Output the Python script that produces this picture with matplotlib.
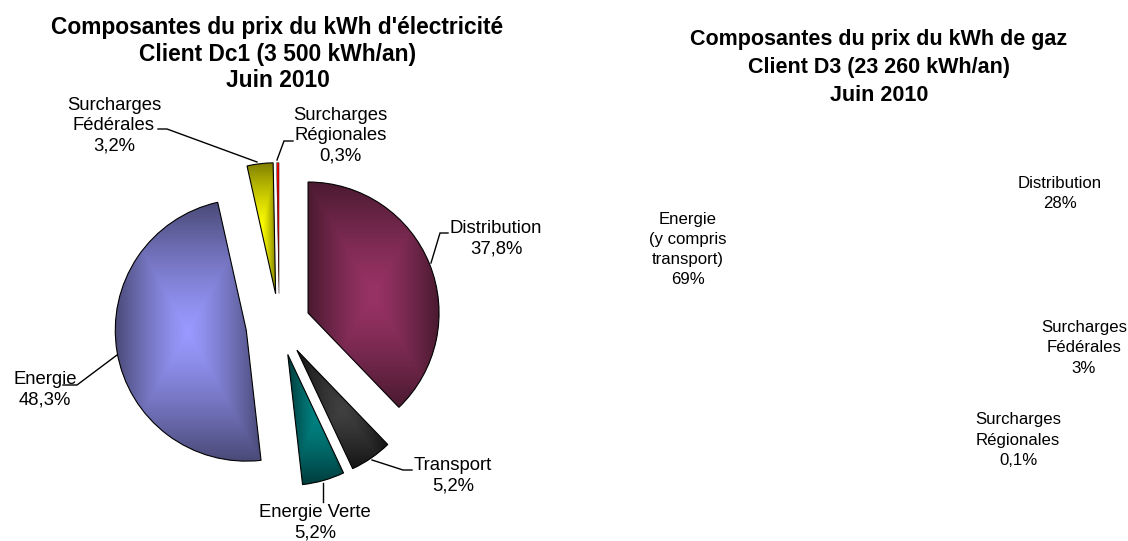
import numpy as np
import matplotlib
matplotlib.use('Agg')
import matplotlib.pyplot as plt

plt.rcParams['font.family'] = ['Liberation Sans', 'DejaVu Sans']

# electricity pie (clockwise from 12 o'clock)
elec_names = ['Distribution', 'Transport', 'Energie Verte', 'Energie', 'Surcharges\nFédérales', 'Surcharges\nRégionales']
elec_values = [37.8, 5.2, 5.2, 48.3, 3.2, 0.3]
elec_bright = ['#993366', '#404040', '#008080', '#9999FF', '#FFFF00', '#FF0000']
elec_dark = ['#4A1A30', '#141414', '#003C3C', '#4A4A78', '#808000', '#FF0000']

# gas labels, the pie itself is not visible in the picture
gas_names = ['Distribution', 'Surcharges\nFédérales', 'Surcharges\nRégionales', 'Energie\n(y compris\ntransport)']
gas_values = ['28%', '3%', '0,1%', '69%']

title_left = "Composantes du prix du kWh d'électricité\nClient Dc1 (3 500 kWh/an)\nJuin 2010"
title_right = "Composantes du prix du kWh de gaz\nClient D3 (23 260 kWh/an)\nJuin 2010"

W, H = 1128, 541


def fmt(v):
    return f'{v:.1f}'.replace('.', ',') + '%'


fig = plt.figure(figsize=(W / 100, H / 100), dpi=100)
ax = fig.add_axes([0, 0, 1, 1])

# axes in pixels, y flipped back by hand through H - y
wedges, _ = ax.pie(elec_values, startangle=90, counterclock=False, radius=131,
                   center=(279.3, H - 324.6), explode=[31, 31, 31, 33.5, 31, 31],
                   wedgeprops={'facecolor': 'none', 'edgecolor': 'black', 'linewidth': 0.8, 'zorder': 3})
# the thin red slice disappears under a full outline
wedges[-1].set_linewidth(0.35)

# rectangular "from centre" gradient inside each slice
for w, c1, c2 in zip(wedges, elec_bright, elec_dark):
    ext = w.get_path().transformed(w.get_patch_transform()).get_extents()
    u, v = np.meshgrid(np.linspace(-1, 1, 200), np.linspace(-1, 1, 200))
    t = np.maximum(np.abs(u), np.abs(v)) ** 1.3
    rgb1 = np.array(matplotlib.colors.to_rgb(c1))
    rgb2 = np.array(matplotlib.colors.to_rgb(c2))
    img = rgb1[None, None, :] * (1 - t[..., None]) + rgb2[None, None, :] * t[..., None]
    im = ax.imshow(img, extent=[ext.x0, ext.x1, ext.y0, ext.y1], aspect='auto', zorder=2, interpolation='bilinear')
    im.set_clip_path(w)

ax.set_xlim(0, W)
ax.set_ylim(0, H)
ax.set_aspect('auto')
ax.axis('off')


def label(x, y, s, size=13.3, ls=1.24, **kw):
    ax.text(x, H - y, s, fontsize=size, ha='center', va='center', linespacing=ls, color='black', **kw)


# titles
label(277.5, 54, title_left, size=16.4, ls=1.22, fontweight='bold')
label(879, 67.5, title_right, size=15.5, ls=1.45, fontweight='bold')

# electricity labels
elec_pos = [(496, 239), (453, 476), (315, 523), (45, 390), (114, 126), (340.5, 136)]
for (x, y), n, v in zip(elec_pos, elec_names, elec_values):
    label(x, y, f'{n}\n{fmt(v)}')

# leader lines
leaders = [
    [(448, 233), (440, 233), (431, 263)],
    [(412, 470), (403, 470), (372, 460)],
    [(323, 483), (323, 502)],
    [(63, 385), (77, 385), (117, 355)],
    [(158, 129), (167, 129), (257, 162)],
    [(293, 141), (284, 141), (277, 160)],
]
for pts in leaders:
    xs = [p[0] for p in pts]
    ys = [H - p[1] for p in pts]
    ax.plot(xs, ys, color='black', lw=1.0, zorder=4, solid_joinstyle='miter')

# gas labels
gas_pos = [(1060, 193.5), (1084, 348), (1018, 440), (688, 249.5)]
for (x, y), n, v in zip(gas_pos, gas_names, gas_values):
    label(x, y, f'{n}\n{v}', size=12.1, ls=1.43)

fig.savefig('out.png', dpi=100)
